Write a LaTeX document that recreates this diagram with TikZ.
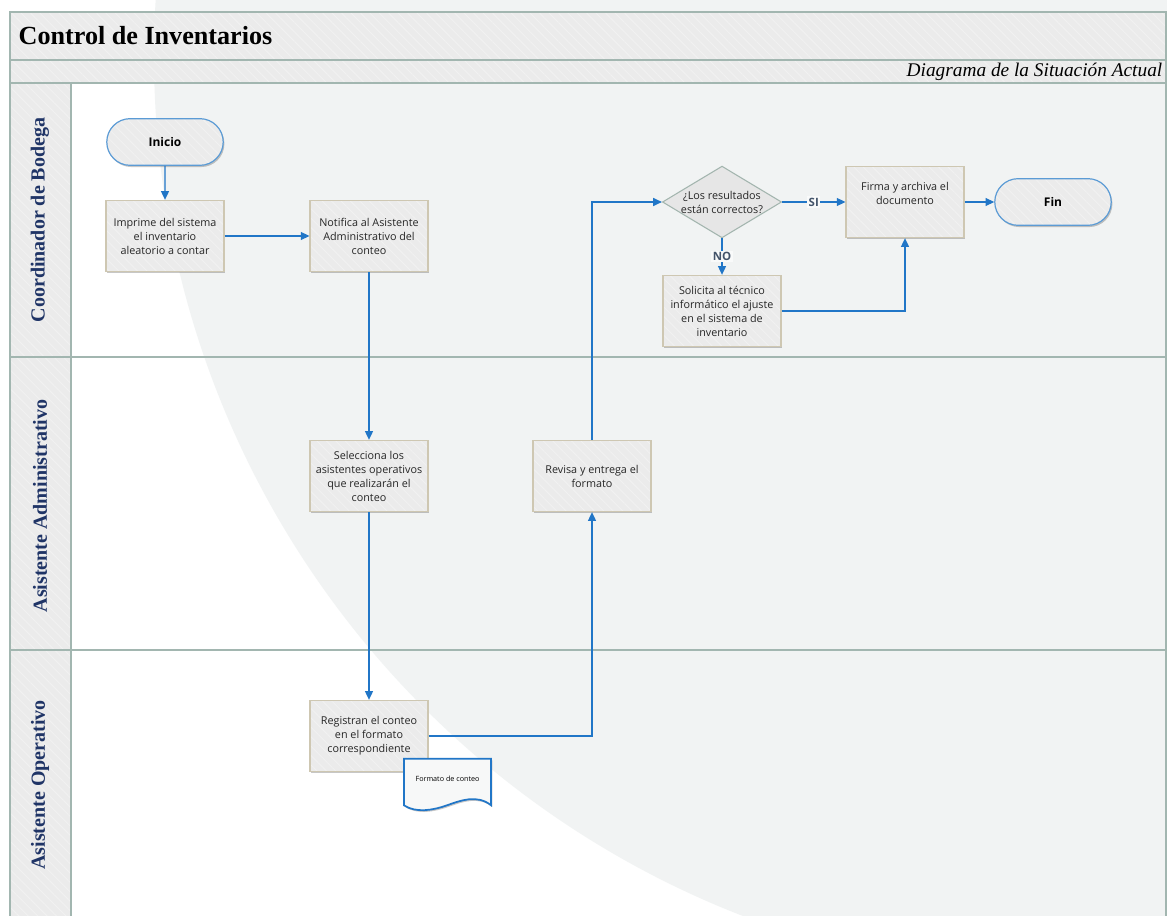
\documentclass[tikz,border=0pt]{standalone}
\usepackage{fontspec}
\setmainfont{Liberation Serif}
\setsansfont{Open Sans}
\usepackage{xcolor}
\definecolor{flowblue}{HTML}{2176C7}
\definecolor{termblue}{HTML}{5B9BD5}
\definecolor{boxgray}{HTML}{EBEBEB}
\definecolor{boxedge}{HTML}{CEC7B2}
\definecolor{diaedge}{HTML}{A3B5AE}
\definecolor{diagray}{HTML}{E6E6E6}
\definecolor{bandgray}{HTML}{EBEBEB}
\definecolor{frameline}{HTML}{A2B6B0}
\definecolor{bggray}{HTML}{F1F3F3}
\definecolor{navy}{HTML}{1F3466}
\definecolor{lblblue}{HTML}{44546A}
\usepackage{tikz}
\usetikzlibrary{positioning, arrows.meta, shapes.geometric, shapes.misc, shadows, patterns.meta}
\tikzset{
    hatch/.style = {pattern={Lines[angle=-45, distance=5pt, line width=0.7pt]},
                    pattern color=white!30!boxgray},
    softshadow/.style = {drop shadow={shadow xshift=0.9pt, shadow yshift=-1.3pt,
                         opacity=0.22, fill=black}},
    box/.style = {rectangle, draw=boxedge, line width=0.8pt, softshadow,
                  preaction={fill=boxgray}, hatch,
                  minimum width=88.5pt, minimum height=53.5pt, align=center,
                  font=\sffamily\fontsize{8.1}{10.5}\selectfont, text=black!85},
    terminal/.style = {rounded rectangle, draw=termblue, line width=0.9pt, softshadow,
                       preaction={fill=boxgray}, hatch,
                       minimum width=94pt, minimum height=35pt,
                       font=\sffamily\bfseries\fontsize{9}{10}\selectfont},
    decision/.style = {diamond, draw=diaedge, line width=0.8pt, fill=diagray,
                       aspect=1.66, minimum width=88.5pt,
                       inner sep=0pt, align=center,
                       font=\sffamily\fontsize{8.1}{10.5}\selectfont, text=black!85},
    docnode/.style = {rectangle, minimum width=65pt, minimum height=34.5pt,
                      font=\sffamily\fontsize{5.4}{6}\selectfont},
    docshape/.style = {draw=flowblue, line width=1.3pt, fill=bggray!60!white, softshadow},
    flow/.style = {-{Triangle[length=6.5pt, width=6pt]}, line width=0.8pt, color=flowblue},
    lbl/.style = {font=\sffamily\bfseries\fontsize{8.6}{10}\selectfont, text=lblblue,
                  fill=bggray!40!white, inner sep=1pt},
    band/.style = {preaction={fill=bandgray}, hatch},
    frame/.style = {draw=frameline, line width=0.8pt},
    laneline/.style = {draw=frameline, line width=1.2pt},
    lanetitle/.style = {rotate=90, text=navy, font=\rmfamily\bfseries\fontsize{15}{17}\selectfont},
}

\begin{document}
\begin{tikzpicture}[x=0.75pt, y=-0.75pt]
    \useasboundingbox (0,0) rectangle (1167,916);
    \fill[white] (0,0) rectangle (1167,916);
    \begin{scope}
        \clip (0,0) rectangle (1167,916);
        \fill[bggray] (1076,56) circle (922);
    \end{scope}

    \path[band] (10,12) rectangle (1166,60);
    \path[band] (10,60) rectangle (1166,83);
    \path[band] (10,83) rectangle (71,920);
    \draw[frame] (10,920) -- (10,12) -- (1166,12) -- (1166,920);
    \draw[frame] (10,60) -- (1166,60);
    \draw[frame] (10,83) -- (1166,83);
    \draw[frame] (71,83) -- (71,920);
    \draw[laneline] (10,357) -- (1166,357);
    \draw[laneline] (10,650) -- (1166,650);

    \node[anchor=west, font=\rmfamily\bfseries\fontsize{19.6}{22}\selectfont] (title) at (14,36) {Control de Inventarios};
    \node[anchor=east, font=\rmfamily\itshape\fontsize{14.5}{17}\selectfont] (subtitle) at (1167,72) {Diagrama de la Situación Actual};
    \node[lanetitle] (lane1) at (40,220) {Coordinador de Bodega};
    \node[lanetitle] (lane2) at (40,506) {Asistente Administrativo};
    \node[lanetitle] (lane3) at (40,785) {Asistente Operativo};

    \node[terminal] (inicio) at (165,142) {Inicio};
    \node[box] (imprime) at (165,236) {Imprime del sistema\\el inventario\\aleatorio a contar};
    \node[box] (notifica) at (369,236) {Notifica al Asistente\\Administrativo del\\conteo};
    \node[box] (selecciona) at (369,476) {Selecciona los\\asistentes operativos\\que realizarán el\\conteo};
    \node[box] (revisa) at (592,476) {Revisa y entrega el\\formato};
    \node[box] (registran) at (369,736) {Registran el conteo\\en el formato\\correspondiente};
    \node[docnode] (formato) at (447.5,782) {};
    \draw[docshape] (formato.north west) -- (formato.north east) -- (formato.south east)
        .. controls +(-14,-11) and +(14,-5) .. +(-44,0)
        .. controls +(-14,5) and +(12,8) .. (formato.south west) -- cycle;
    \node[docnode] (formatotxt) at (447.5,779) {Formato de conteo};
    \node[decision] (decision) at (722,202) {¿Los resultados\\están correctos?};
    \node[box] (firma) at (905,202) {Firma y archiva el\\documento\\[2pt]};
    \node[terminal] (fin) at (1053,202) {Fin};
    \node[box] (solicita) at (722,311) {Solicita al técnico\\informático el ajuste\\en el sistema de\\inventario};

    \draw[flow] (inicio) -- (imprime);
    \draw[flow] (imprime) -- (notifica);
    \draw[flow] (notifica) -- (selecciona);
    \draw[flow] (selecciona) -- (registran);
    \draw[flow] (registran.east) -| (revisa.south);
    \draw[flow] (revisa.north) |- (decision.west);
    \draw[flow] (decision.east) -- node[lbl]{SI} (firma.west);
    \draw[flow] (decision.south) -- node[lbl]{NO} (solicita.north);
    \draw[flow] (solicita.east) -| (firma.south);
    \draw[flow] (firma.east) -- (fin.west);
\end{tikzpicture}
\end{document}
